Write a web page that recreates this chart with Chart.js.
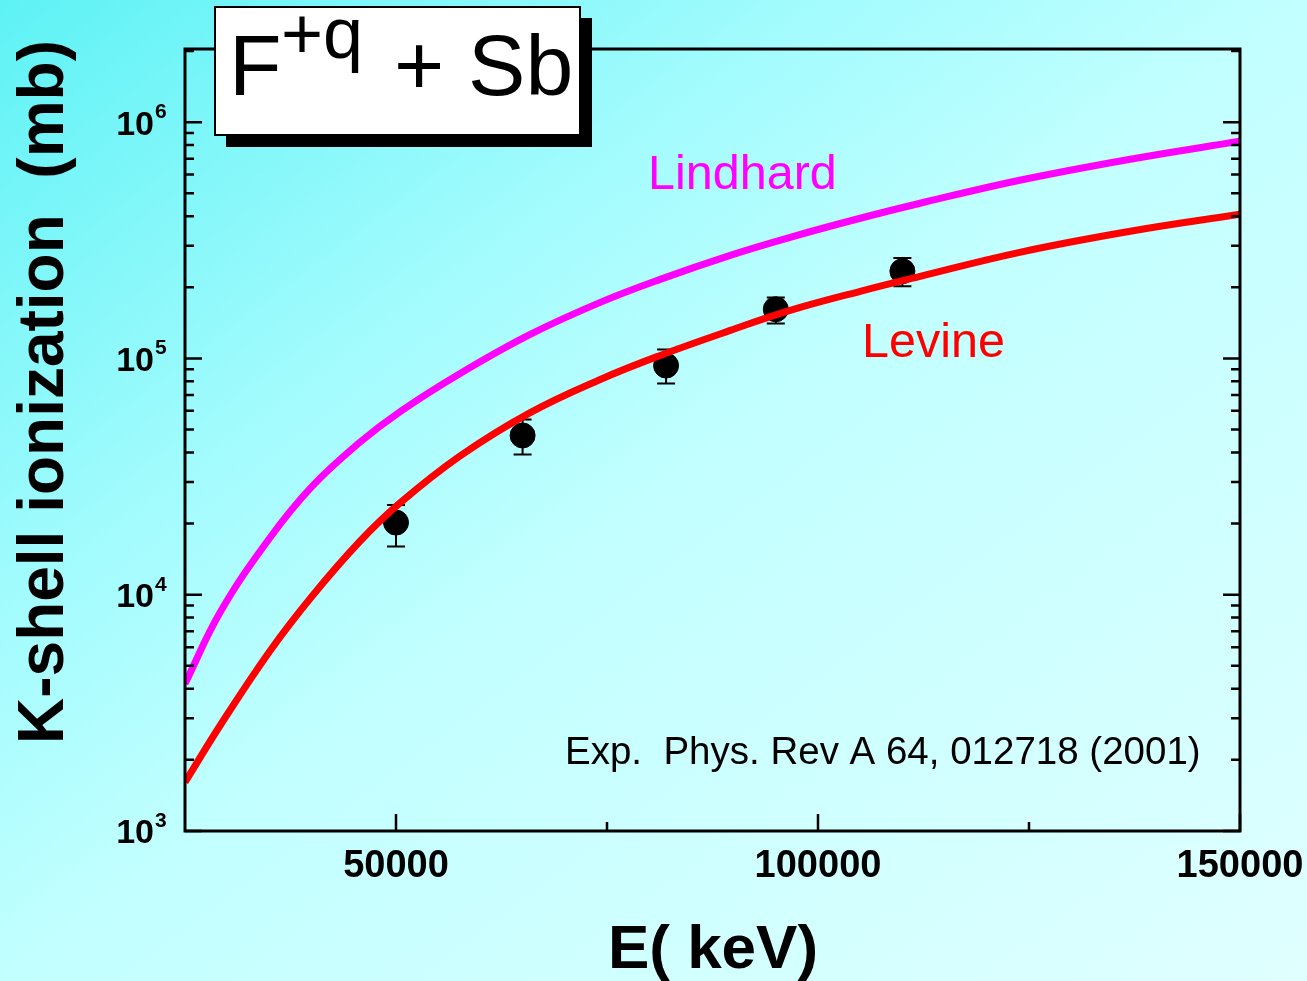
<!DOCTYPE html>
<html><head><meta charset="utf-8"><title>F+q + Sb K-shell ionization</title>
<script src="https://cdn.jsdelivr.net/npm/chart.js"></script>
<style>
html, body { margin: 0; padding: 0; }
body {
  width: 1307px; height: 981px; overflow: hidden;
  background: linear-gradient(to bottom right, #5ef2f5 0%, #a0fbfd 30%, #c2ffff 50%, #e0ffff 100%);
}
canvas { display: block; }
</style>
</head>
<body>
<canvas id="kshell" width="1307" height="981"></canvas>
<script>
const curveE = [25000, 29200, 35000, 40000, 45700, 50500, 57600, 65900, 74200, 81300,
                89600, 96700, 105000, 112100, 123900, 137000, 150000];
const lindhardS = [4200, 8470, 17300, 28600, 44100, 59600, 86400, 126400, 172700, 216100,
                   273200, 325600, 392000, 453800, 567800, 697000, 830800];
const levineS = [1610, 2810, 5740, 9810, 16800, 24500, 38700, 59000, 81500, 103000,
                 131400, 159700, 192300, 222600, 281300, 345300, 407700];

// experiment, Phys. Rev A 64, 012718 (2001)
const expE = [50000, 65000, 82000, 95000, 110000];
const expS = [20200, 47200, 93300, 161500, 234000];
const expHi = [24000, 55200, 109000, 181000, 266000];
const expLo = [16000, 39200, 78400, 140600, 202000];

const xMajor = [50000, 100000, 150000];
const xMinor = [75000, 125000];
const yDecades = [3, 4, 5, 6];

const pairs = (xs, ys) => xs.map((x, i) => ({x: x, y: ys[i]}));

const errorBars = {
  id: 'errorBars',
  beforeDatasetsDraw(chart) {
    const ctx = chart.ctx, xs = chart.scales.x, ys = chart.scales.y;
    ctx.save();
    ctx.strokeStyle = '#000';
    ctx.lineWidth = 2;
    expE.forEach((e, i) => {
      const px = xs.getPixelForValue(e);
      const top = ys.getPixelForValue(expHi[i]);
      const bot = ys.getPixelForValue(expLo[i]);
      ctx.beginPath();
      ctx.moveTo(px, top); ctx.lineTo(px, bot);
      ctx.moveTo(px - 9, top); ctx.lineTo(px + 9, top);
      ctx.moveTo(px - 9, bot); ctx.lineTo(px + 9, bot);
      ctx.stroke();
    });
    ctx.restore();
  }
};

const frame = {
  id: 'frame',
  afterDraw(chart) {
    const ctx = chart.ctx, xs = chart.scales.x, ys = chart.scales.y;
    const a = chart.chartArea;
    ctx.save();
    ctx.strokeStyle = '#000';
    ctx.lineWidth = 3;
    ctx.strokeRect(a.left, a.top, a.right - a.left, a.bottom - a.top);

    // inward ticks
    ctx.lineWidth = 2.5;
    ctx.beginPath();
    yDecades.forEach(d => {
      for (let m = 1; m <= 9; m++) {
        const v = m * Math.pow(10, d);
        if (v > ys.max) break;
        const py = ys.getPixelForValue(v);
        const len = m === 1 ? 17 : 9;
        ctx.moveTo(a.left, py); ctx.lineTo(a.left + len, py);
        ctx.moveTo(a.right, py); ctx.lineTo(a.right - len, py);
        if (d === 6 && m >= 2) break;
      }
    });
    xMajor.forEach(v => {
      const px = xs.getPixelForValue(v);
      ctx.moveTo(px, a.bottom); ctx.lineTo(px, a.bottom - 17);
    });
    xMinor.forEach(v => {
      const px = xs.getPixelForValue(v);
      ctx.moveTo(px, a.bottom); ctx.lineTo(px, a.bottom - 9);
    });
    ctx.stroke();

    // tick labels
    ctx.fillStyle = '#000';
    ctx.font = 'bold 38px "Liberation Sans", Arial, sans-serif';
    ctx.textAlign = 'center';
    ctx.textBaseline = 'middle';
    xMajor.forEach(v => ctx.fillText(String(v), xs.getPixelForValue(v), a.bottom + 36));

    yDecades.forEach(d => {
      const py = ys.getPixelForValue(Math.pow(10, d));
      ctx.font = 'bold 34px "Liberation Sans", Arial, sans-serif';
      ctx.textAlign = 'right';
      ctx.textBaseline = 'middle';
      ctx.fillText('10', 154, py + 3);
      ctx.font = 'bold 21px "Liberation Sans", Arial, sans-serif';
      ctx.textAlign = 'left';
      ctx.textBaseline = 'alphabetic';
      ctx.fillText(String(d), 155, py - 4);
    });

    // axis titles
    ctx.font = 'bold 62px "Liberation Sans", Arial, sans-serif';
    ctx.textAlign = 'center';
    ctx.textBaseline = 'alphabetic';
    ctx.fillText('E( keV)', 713, 968);
    ctx.save();
    ctx.translate(63, 392);
    ctx.rotate(-Math.PI / 2);
    ctx.font = 'bold 64px "Liberation Sans", Arial, sans-serif';
    ctx.fillText('K-shell ionization  (mb)', 0, 0);
    ctx.restore();

    // curve labels and reference
    ctx.textAlign = 'left';
    ctx.font = '48.5px "Liberation Sans", Arial, sans-serif';
    ctx.fillStyle = '#ff00ff';
    ctx.fillText('Lindhard', 648, 189);
    ctx.fillStyle = '#ff0000';
    ctx.fillText('Levine', 862, 357);
    ctx.fillStyle = '#000';
    ctx.font = '38.5px "Liberation Sans", Arial, sans-serif';
    ctx.fillText('Exp.  Phys. Rev A 64, 012718 (2001)', 565, 764);

    // title box with shadow
    ctx.fillStyle = '#000';
    ctx.fillRect(226, 18, 366, 129);
    ctx.fillStyle = '#fff';
    ctx.fillRect(215, 7, 365, 128);
    ctx.lineWidth = 2;
    ctx.strokeRect(215, 7, 365, 128);
    ctx.fillStyle = '#000';
    ctx.font = '86px "Liberation Sans", Arial, sans-serif';
    ctx.fillText('F', 229, 95);
    ctx.font = '72px "Liberation Sans", Arial, sans-serif';
    ctx.fillText('+q', 281, 58);
    ctx.font = '86px "Liberation Sans", Arial, sans-serif';
    ctx.fillText('+ Sb', 394, 95);
    ctx.restore();
  }
};

new Chart(document.getElementById('kshell'), {
  type: 'scatter',
  data: {
    datasets: [
      { label: 'Lindhard', data: pairs(curveE, lindhardS), showLine: true,
        borderColor: '#ff00ff', borderWidth: 7, pointRadius: 0, tension: 0.4 },
      { label: 'Levine', data: pairs(curveE, levineS), showLine: true,
        borderColor: '#ff0000', borderWidth: 7, pointRadius: 0, tension: 0.4 },
      { label: 'Exp.', data: pairs(expE, expS), showLine: false,
        backgroundColor: '#000', borderColor: '#000', pointRadius: 12.5 }
    ]
  },
  options: {
    responsive: false,
    animation: false,
    layout: { padding: { left: 185, right: 67, top: 49, bottom: 150 } },
    plugins: { legend: { display: false }, tooltip: { enabled: false } },
    scales: {
      x: { type: 'linear', min: 25000, max: 150000, display: false },
      y: { type: 'logarithmic', min: 1000, max: 2040000, display: false }
    }
  },
  plugins: [errorBars, frame]
});
</script>
</body></html>
